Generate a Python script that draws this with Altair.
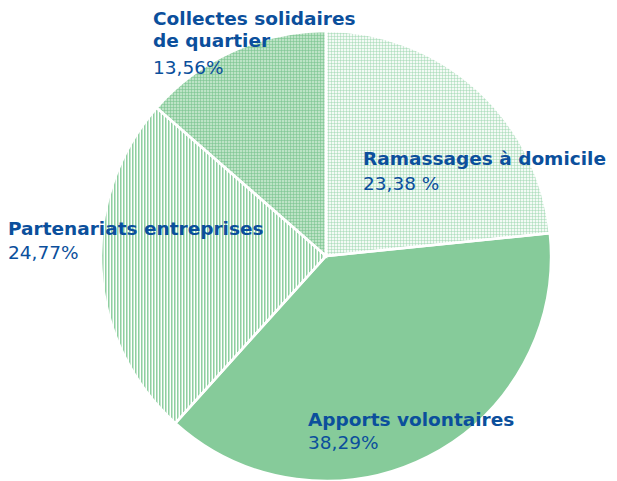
import math
import altair as alt
import pandas as pd

categories = ["Ramassages à domicile", "Apports volontaires",
              "Partenariats entreprises", "Collectes solidaires de quartier"]
shares = [23.38, 38.29, 24.77, 13.56]
share_labels = ["23,38 %", "38,29%", "24,77%", "13,56%"]
title_lines = [["Ramassages à domicile"], ["Apports volontaires"],
               ["Partenariats entreprises"], ["Collectes solidaires", "de quartier"]]

# annotation layout (plot-area pixels): x, title baseline, value baseline
label_pos = [(355, 157, 182), (300, 418, 441), (0, 227, 251), (145, 17, 66)]

TEXT_BLUE = "#0b4f9c"
FONT = "DejaVu Sans"
FS = 18.5
CX, CY, R = 318, 248, 225

df = pd.DataFrame({"cat": categories, "share": shares, "order": list(range(len(categories)))})

total = sum(shares)
bounds = []
acc = 0.0
for s in shares:
    bounds.append((acc / total * 2 * math.pi, (acc + s) / total * 2 * math.pi))
    acc += s


def arc_bbox(a0, a1, r):
    pts = [(0.0, 0.0), (r * math.sin(a0), -r * math.cos(a0)), (r * math.sin(a1), -r * math.cos(a1))]
    for k in range(5):
        a = k * math.pi / 2
        if a0 < a < a1:
            pts.append((r * math.sin(a), -r * math.cos(a)))
    xs = [p[0] for p in pts]
    ys = [p[1] for p in pts]
    return max(xs) - min(xs), max(ys) - min(ys)


def stripes(extent, pitch, segments, vertical=True):
    n = int(math.ceil(extent / pitch))
    span = n * pitch / extent
    stops = []
    tot = sum(f for f, _ in segments)
    for k in range(n):
        off = k / n
        for f, c in segments:
            stops.append(alt.GradientStop(offset=round(min(off, 1.0), 6), color=c))
            off += f / tot / n
            stops.append(alt.GradientStop(offset=round(min(off, 1.0), 6), color=c))
    if vertical:
        return alt.LinearGradient(gradient="linear", stops=stops, x1=0, x2=span, y1=0, y2=0)
    return alt.LinearGradient(gradient="linear", stops=stops, x1=0, x2=0, y1=0, y2=span)


T = "rgba(255,255,255,0)"

base = alt.Chart(df).transform_joinaggregate(
    total="sum(share)"
).transform_window(
    cum="sum(share)", sort=[alt.SortField("order")], frame=[None, 0]
).transform_calculate(
    t0="(datum.cum - datum.share) / datum.total",
    t1="datum.cum / datum.total",
)

enc = dict(
    theta=alt.Theta("t0:Q", scale=alt.Scale(domain=[0, 1])),
    theta2="t1:Q",
    x=alt.value(CX), y=alt.value(CY),
)


def slice_layer(i, fill, opacity=1.0):
    return base.transform_filter(alt.datum.order == i).mark_arc(
        radius=R, fill=fill, opacity=opacity, strokeWidth=0
    ).encode(**enc)


layers = []
# 0 Ramassages: light dotted grid
w, h = arc_bbox(*bounds[0], R)
layers.append(slice_layer(0, "#f3faf5"))
layers.append(slice_layer(0, stripes(w, 3, [(2, T), (1, "rgba(150,212,170,0.45)")], True)))
layers.append(slice_layer(0, stripes(h, 3, [(2, T), (1, "rgba(150,212,170,0.45)")], False)))
# 1 Apports: solid
layers.append(slice_layer(1, "#86cb9a"))
# 2 Partenariats: vertical stripes
w, h = arc_bbox(*bounds[2], R)
layers.append(slice_layer(2, stripes(w, 3, [(1, "#ffffff"), (1, "#8fcfa1"), (1, "#c2e6cc")], True)))
# 3 Collectes: dense fine grid
w, h = arc_bbox(*bounds[3], R)
layers.append(slice_layer(3, "#bde3c6"))
layers.append(slice_layer(3, stripes(w, 3, [(1, T), (1, "rgba(118,194,140,0.55)"), (1, T)], True)))
layers.append(slice_layer(3, stripes(h, 3, [(1, T), (1, "rgba(118,194,140,0.55)"), (1, T)], False)))

# white separators
layers.append(base.mark_arc(radius=R, fill="transparent", stroke="white", strokeWidth=2.5).encode(**enc))

for i in range(len(categories)):
    lx, ty, vy = label_pos[i]
    t = alt.Chart(df).transform_filter(alt.datum.order == i).mark_text(
        align="left", baseline="alphabetic", font=FONT, fontSize=FS, fontWeight="bold",
        color=TEXT_BLUE, lineHeight=22,
    ).encode(x=alt.value(lx), y=alt.value(ty), text=alt.value(title_lines[i]))
    v = alt.Chart(df).transform_filter(alt.datum.order == i).mark_text(
        align="left", baseline="alphabetic", font=FONT, fontSize=FS, fontWeight="normal",
        color=TEXT_BLUE,
    ).encode(x=alt.value(lx), y=alt.value(vy), text=alt.value(share_labels[i]))
    layers += [t, v]

chart = alt.layer(*layers).properties(
    width=601, height=473, autosize="none", padding=0
).configure_view(stroke=None)

chart.save("out.html", embed_options={"renderer": "svg", "actions": False})
